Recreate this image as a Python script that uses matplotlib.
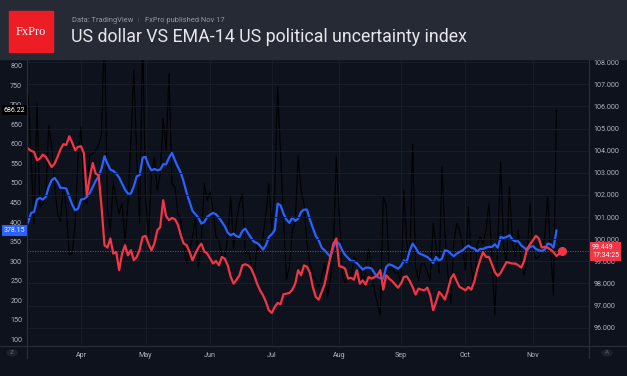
import numpy as np
import pandas as pd
import matplotlib.pyplot as plt
from matplotlib.patches import Rectangle, Circle
from matplotlib.transforms import blended_transform_factory

# business days, Mar 5 -> Nov 17 2025
dates = pd.bdate_range("2025-03-05", "2025-11-17")

# US dollar index (right axis)
dxy = [104.20, 104.09, 103.99, 103.94, 103.57, 103.64, 103.82, 103.72, 103.49, 103.26,
       103.41, 103.72, 104.05, 104.29, 104.26, 104.65, 104.36, 104.02, 104.17, 104.20,
       103.87, 101.98, 102.81, 103.44, 102.96, 102.89, 101.46, 99.73, 99.62, 100.03,
       99.35, 99.42, 98.60, 99.35, 99.73, 99.27, 99.50, 99.05, 99.20, 99.53,
       100.10, 100.15, 99.80, 99.50, 99.80, 100.40, 100.55, 101.76, 101.04, 100.86,
       100.96, 100.90, 100.66, 100.18, 99.80, 99.73, 99.42, 99.05, 99.35, 99.62,
       99.80, 99.45, 99.35, 99.12, 98.90, 99.02, 98.82, 99.20, 99.12, 98.82,
       98.30, 97.99, 98.17, 98.37, 98.82, 98.87, 98.81, 98.67, 98.37, 97.99,
       97.69, 97.47, 97.17, 96.79, 96.67, 96.94, 97.12, 97.06, 97.51, 97.54,
       97.57, 97.72, 97.99, 98.60, 98.37, 98.82, 98.75, 98.48, 97.84, 97.39,
       97.27, 97.62, 97.96, 98.60, 99.20, 99.80, 100.03, 98.78, 98.75, 98.67,
       98.22, 98.26, 98.17, 98.60, 97.99, 98.14, 97.95, 98.29, 98.22, 98.29,
       98.37, 98.60, 97.72, 98.37, 98.22, 98.11, 97.96, 97.81, 97.99, 98.29,
       98.32, 98.11, 97.84, 97.50, 97.77, 97.72, 97.69, 97.81, 97.47, 96.79,
       97.17, 97.62, 97.47, 97.27, 97.69, 98.22, 98.42, 98.11, 97.84, 97.77,
       97.69, 97.84, 97.72, 98.07, 98.63, 99.05, 99.42, 99.20, 99.20, 98.87,
       98.52, 98.34, 98.48, 98.72, 98.97, 98.93, 98.90, 98.90, 98.82, 98.72,
       99.02, 99.57, 99.77, 99.95, 100.15, 100.03, 99.62, 99.65, 99.62, 99.53,
       99.42, 99.24, 99.35, 99.449]

# EMA-14 of the uncertainty index (left axis)
epu_ema = [383.2, 400.2, 423.2, 425.8, 457.3, 461.6, 457.3, 464.2, 489.7, 506.8,
           512.8, 502.5, 487.2, 487.2, 485.5, 464.2, 444.5, 430.1, 434.3, 457.3,
           459.0, 464.2, 474.4, 489.7, 505.1, 517.0, 536.6, 568.2, 549.4, 534.1,
           530.7, 523.9, 513.6, 498.3, 482.9, 472.7, 472.7, 491.4, 517.0, 520.4,
           564.8, 566.5, 545.2, 532.4, 535.8, 532.4, 534.1, 547.7, 547.7, 564.8,
           576.7, 558.0, 540.9, 526.4, 502.5, 474.4, 451.4, 428.3, 419.8, 411.3,
           396.0, 400.2, 413.0, 419.0, 423.2, 419.8, 411.3, 400.2, 389.1, 372.9,
           366.1, 370.4, 363.5, 361.8, 377.2, 383.2, 370.4, 359.3, 349.0, 346.5,
           339.7, 329.4, 340.5, 361.8, 368.7, 378.9, 447.1, 442.8, 421.5, 406.2,
           397.7, 411.3, 402.8, 408.7, 425.8, 431.8, 431.8, 406.2, 385.7, 364.4,
           353.3, 334.5, 327.7, 319.2, 310.7, 336.3, 349.0, 344.8, 327.7, 315.8,
           308.1, 300.4, 300.4, 295.3, 286.8, 278.3, 283.4, 283.4, 280.8, 269.7,
           259.5, 256.1, 255.2, 285.1, 291.9, 289.4, 285.1, 280.8, 286.8, 302.1,
           297.9, 326.0, 344.8, 334.5, 320.9, 317.5, 314.1, 310.7, 303.9, 295.3,
           310.7, 300.4, 306.4, 327.7, 326.0, 319.2, 312.4, 319.2, 323.5, 327.7,
           334.5, 339.7, 334.5, 332.0, 325.2, 331.1, 331.1, 334.5, 336.3, 336.3,
           343.1, 334.5, 361.8, 359.3, 361.8, 366.1, 355.0, 350.8, 350.8, 340.5,
           334.5, 327.7, 336.3, 338.8, 331.1, 327.7, 326.0, 329.4, 344.8, 343.1,
           334.5, 378.15]

# daily US political uncertainty index (left axis)
epu = [711.4, 724.2, 566.5, 396.0, 702.9, 438.6, 447.1, 464.2, 648.3, 592.1,
       498.3, 421.5, 401.1, 494.9, 430.1, 315.8, 319.2, 396.0, 566.5, 644.1,
       455.6, 447.1, 571.6, 575.0, 583.5, 596.3, 626.2, 905.0, 435.2, 375.5,
       503.4, 455.6, 421.5, 447.1, 349.9, 447.1, 609.1, 789.0, 566.5, 396.0,
       880.0, 464.2, 358.4, 523.9, 566.5, 481.2, 523.9, 665.4, 583.5, 779.7,
       498.3, 489.8, 421.5, 404.5, 344.8, 293.6, 327.8, 361.8, 413.0, 285.1,
       344.8, 498.3, 455.6, 477.0, 430.1, 361.8, 353.3, 310.7, 310.7, 361.8,
       464.2, 332.0, 404.5, 447.1, 472.7, 319.2, 327.8, 293.6, 259.5, 340.5,
       319.2, 361.8, 421.5, 498.3, 378.9, 481.2, 745.6, 575.0, 413.0, 252.7,
       285.1, 378.9, 396.0, 570.7, 481.2, 447.1, 344.8, 293.6, 263.8, 251.0,
       233.9, 259.5, 293.6, 208.4, 255.2, 336.3, 566.5, 421.5, 268.0, 242.5,
       272.3, 251.0, 310.7, 297.9, 293.6, 233.9, 276.6, 332.0, 276.6, 225.4,
       191.3, 161.5, 464.2, 442.8, 276.6, 285.1, 268.0, 272.3, 242.5, 481.2,
       344.8, 293.6, 598.9, 285.1, 251.0, 293.6, 293.6, 272.3, 251.0, 396.0,
       336.3, 268.0, 540.9, 370.4, 268.0, 191.3, 344.8, 396.0, 378.9, 344.8,
       276.6, 438.6, 285.1, 225.4, 344.8, 361.8, 344.8, 378.9, 447.1, 310.7,
       161.5, 344.8, 553.7, 336.3, 293.6, 489.8, 344.8, 310.7, 378.9, 302.2,
       263.8, 302.2, 447.1, 332.0, 306.4, 310.7, 327.8, 361.8, 464.2, 327.8,
       212.6, 686.22]

left_ticks = list(range(100, 801, 50))
right_ticks = list(range(96, 109))

bg = "#0d121d"
header = "#262a35"
grid = "#1a1f2b"
sep = "#2a2e39"
txt = "#b2b5be"
red = "#f23645"
blue = "#2962ff"

W, H = 627, 376
fig = plt.figure(figsize=(W / 100, H / 100), dpi=100, facecolor=bg)
fig.patches.append(Rectangle((0, 1 - 59 / H), 1, 59 / H, transform=fig.transFigure,
                             color=header, zorder=0))
# logo
fig.patches.append(Rectangle((9 / W, 1 - 52 / H), 44 / W, 41 / H, transform=fig.transFigure,
                             color="#ee1c25", zorder=1))
fig.text(31 / W, 1 - 32 / H, "FxPro", color="white", fontsize=9, family="Liberation Serif",
         ha="center", va="center")
fig.text(72 / W, 1 - 20 / H, "Data: TradingView", color="#9598a1",
         fontsize=5.4, family="Roboto", ha="left", va="center")
fig.text(138 / W, 1 - 20 / H, "|", color="#5d606b",
         fontsize=4.6, family="Roboto", ha="left", va="center")
fig.text(145 / W, 1 - 20 / H, "FxPro published Nov 17", color="#9598a1",
         fontsize=5.4, family="Roboto", ha="left", va="center")
fig.text(71 / W, 1 - 36.5 / H, "US dollar VS EMA-14 US political uncertainty index", color="#e6e7ea",
         fontsize=12.8, family="Roboto", ha="left", va="center")

ax = fig.add_axes([27 / W, 1 - 345 / H, (589 - 27) / W, (345 - 59) / H])
ax.set_facecolor(bg)
ax2 = ax.twinx()

x_all = np.arange(len(dxy))
x_epu = np.arange(len(epu))

month_pos = [i for i in range(1, len(dates)) if dates[i].month != dates[i - 1].month]
month_lab = [dates[i].strftime("%b") for i in month_pos]

ax.plot(x_epu, epu, color="black", lw=0.8, zorder=2)
ax.plot(x_epu, epu_ema, color=blue, lw=1.6, zorder=3)
ax2.plot(x_all, dxy, color=red, lw=1.6, zorder=3)
ax2.plot(x_all[-1], dxy[-1], "o", color=red, ms=5.5, zorder=4)
ax2.axhline(dxy[-1], color=red, lw=0.6, ls=(0, (1.5, 1.5)), alpha=0.8, zorder=1)

ax.set_xlim(0.6, 192.1)
ax.set_ylim(85.5, 817)
ax2.set_ylim(95.22, 108.14)

ax.set_yticks(left_ticks)
ax2.set_yticks(right_ticks)
ax2.set_yticklabels([f"{v:.3f}" for v in right_ticks])
ax.set_xticks(month_pos)
ax.set_xticklabels(month_lab)

for a in (ax, ax2):
    for s in a.spines.values():
        s.set_visible(False)
    a.tick_params(length=0, colors=txt, labelsize=5.1)
    for lab in a.get_xticklabels() + a.get_yticklabels():
        lab.set_family("Roboto")
ax.tick_params(axis="y", pad=3.5)
ax2.tick_params(axis="y", pad=3.5)
ax.tick_params(axis="x", pad=5)

ax.grid(axis="x", color=grid, lw=0.6)
ax2.grid(axis="y", color=grid, lw=0.6)
ax.set_axisbelow(True)

# separators
fig.add_artist(plt.Line2D([0, 1], [1 - 345.5 / H] * 2, color=sep, lw=0.8, transform=fig.transFigure))
for xp in (27, 589):
    fig.add_artist(plt.Line2D([xp / W] * 2, [1 - 59 / H, 1 - 358 / H], color=sep, lw=0.8,
                              transform=fig.transFigure))

# last value labels (they sit over the axis ticks, as in the source)
tl = blended_transform_factory(fig.transFigure, ax.transData)
ax.text(25.5 / W, epu[-1], f"{epu[-1]:.2f}", transform=tl, ha="right", va="center", fontsize=5.0,
        family="Roboto", color="white", clip_on=False, zorder=10,
        bbox=dict(boxstyle="square,pad=0.25", fc="black", ec="none"))
ax.text(25.5 / W, epu_ema[-1], f"{epu_ema[-1]:.2f}", transform=tl, ha="right", va="center", fontsize=5.0,
        family="Roboto", color="white", clip_on=False, zorder=10,
        bbox=dict(boxstyle="square,pad=0.25", fc=blue, ec="none"))
tr = blended_transform_factory(fig.transFigure, ax2.transData)
ax2.text(592 / W, dxy[-1], f"{dxy[-1]:.3f}\n17:34:25", transform=tr, ha="left", va="center",
         fontsize=5.0, family="Roboto", color="white", linespacing=1.1, clip_on=False, zorder=10,
         bbox=dict(boxstyle="square,pad=0.35", fc=red, ec="none"))

# corner buttons
for cx, letter in ((12, "Z"), (607, "A")):
    fig.patches.append(Circle((cx / W, 1 - 353 / H), 5 / W, transform=fig.transFigure,
                              color="#1c212c", zorder=1))
    fig.text(cx / W, 1 - 353 / H, letter, color="#6a6d78", fontsize=4.2, ha="center", va="center")

fig.savefig("out.png", dpi=100, facecolor=bg)
